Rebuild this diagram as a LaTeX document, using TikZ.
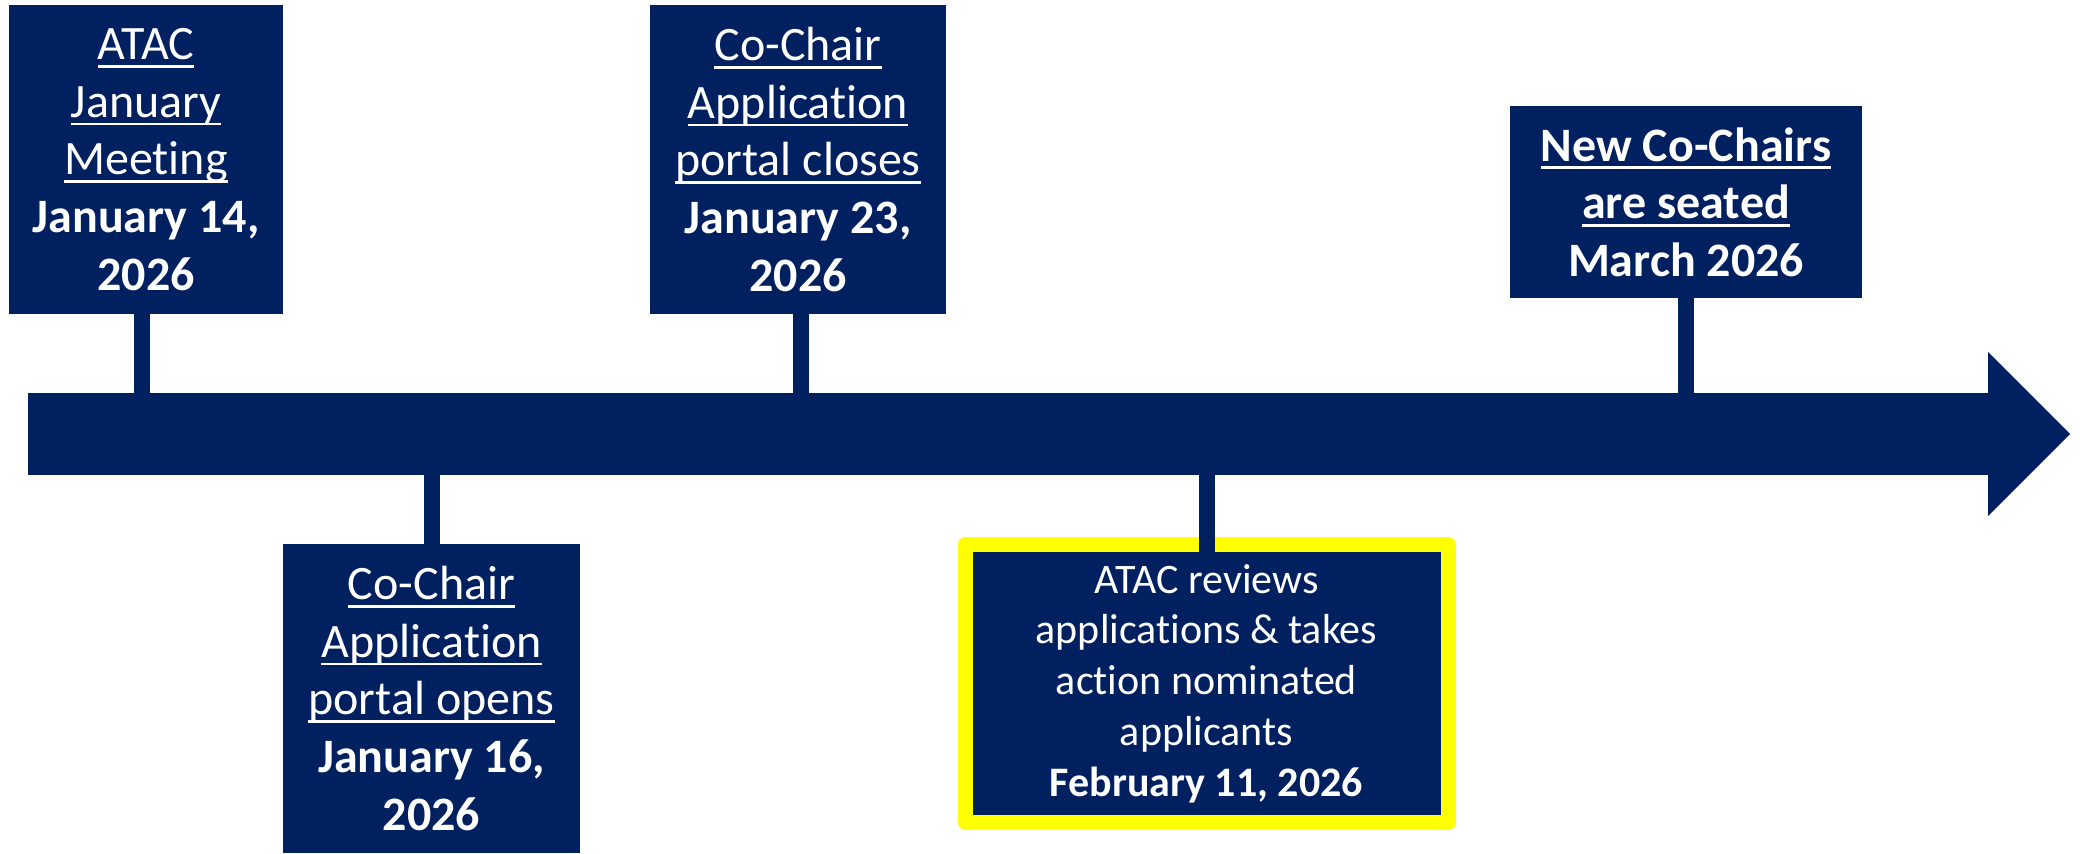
\documentclass[tikz,border=0pt]{standalone}
\usepackage{fontspec}
\setmainfont[Ligatures=CommonOff]{Carlito}
\usetikzlibrary{calc}
\definecolor{navy}{HTML}{002060}
\definecolor{hlyellow}{HTML}{FFFF00}
\newcommand{\myul}[1]{\leavevmode\setbox0\hbox{#1}\rlap{\vrule width \wd0 height -2.7pt depth 4pt}\box0}
\begin{document}
\begin{tikzpicture}[x=0.5pt,y=-0.5pt,
  evt/.style={rectangle, fill=navy, text=white, align=center, inner sep=0pt, outer sep=0pt,
    font=\fontsize{24}{28.8}\selectfont},
  stem/.style={draw=navy, line width=8pt, line cap=butt}]
\useasboundingbox (0,0) rectangle (2080,854);
% timeline axis
\node[fill=navy, minimum width=980pt, minimum height=41pt, inner sep=0pt, outer sep=0pt] (axis) at (1008,434) {};
\fill[navy] ($(axis.east)+(0,-82)$) -- ($(axis.east)+(82,0)$) -- ($(axis.east)+(0,82)$) -- cycle;
% events
\node[evt, minimum width=137pt, minimum height=154.5pt] (b1) at (146,159.5)
  {\myul{ATAC}\\\myul{January}\\\myul{Meeting}\\\textbf{January 14,}\\\textbf{2026}};
\node[evt, minimum width=148.5pt, minimum height=154.5pt] (b2) at (431.5,698.5)
  {\myul{Co-Chair}\\\myul{Application}\\\myul{portal opens}\\\textbf{January 16,}\\\textbf{2026}};
\node[evt, minimum width=148pt, minimum height=154.5pt] (b3) at (798,159.5)
  {\myul{Co-Chair}\\\myul{Application}\\\myul{portal closes}\\\textbf{January 23,}\\\textbf{2026}};
\node[evt, minimum width=241.5pt, minimum height=139pt, draw=hlyellow, line width=7.5pt, line join=round,
  font=\fontsize{21}{25.4}\selectfont] (b4) at (1206.5,683.5)
  {ATAC reviews\\applications \& takes\\action nominated\\applicants\\\textbf{February 11, 2026}};
\node[evt, minimum width=176pt, minimum height=96pt] (b5) at (1686,202)
  {\myul{\textbf{New Co-Chairs}}\\\myul{\textbf{are seated}}\\\textbf{March 2026}};
% stems
\coordinate (s1) at ($(b1.south)+(-4,0)$);
\coordinate (s3) at ($(b3.south)+(3,0)$);
\draw[stem] (s1) -- (s1 |- axis.north);
\draw[stem] (axis.south -| b2.north) -- (b2.north);
\draw[stem] (s3) -- (s3 |- axis.north);
\draw[stem] (axis.south -| b4.north) -- ($(b4.north)+(0,8)$);
\draw[stem] (b5.south) -- (b5.south |- axis.north);
\end{tikzpicture}
\end{document}
